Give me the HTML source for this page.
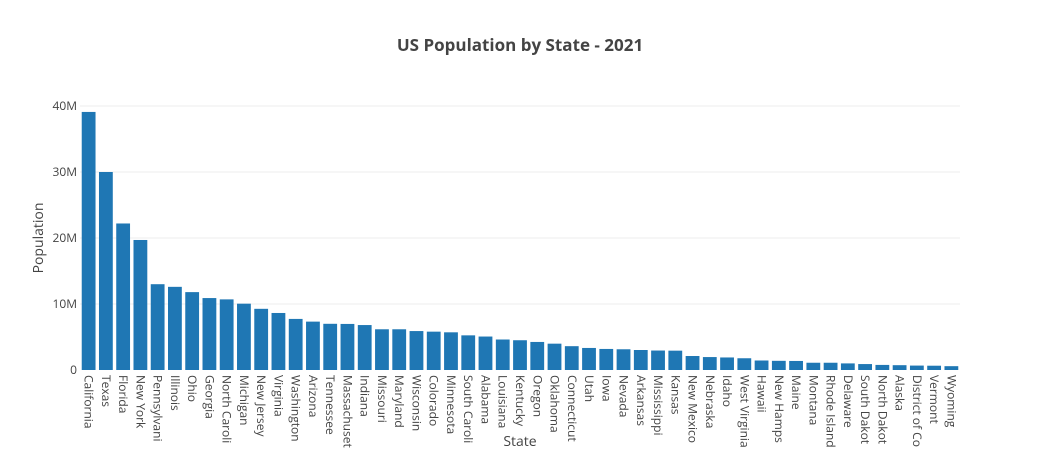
<!DOCTYPE html>
<html><head><meta charset="utf-8"><style>
html,body{margin:0;background:#fff;width:1040px;height:450px;overflow:hidden}
svg{display:block;overflow:hidden;font-family:"Open Sans","Liberation Sans",sans-serif}
</style></head><body>
<svg id="chart" width="1040" height="450" viewBox="0 0 1040 450">
<text x="520" y="51" text-anchor="middle" font-size="17" font-weight="bold" fill="#444">US Population by State - 2021</text>
<g id="grid"></g><g id="bars"></g><g id="xticks"></g><g id="yticks"></g>
<text x="520" y="446" text-anchor="middle" font-size="14" fill="#444">State</text>
<text transform="translate(43,238) rotate(-90)" text-anchor="middle" font-size="14" fill="#444">Population</text>
</svg>
<script>
const states=["California","Texas","Florida","New York","Pennsylvania","Illinois","Ohio","Georgia","North Carolina","Michigan","New Jersey","Virginia","Washington","Arizona","Tennessee","Massachusetts","Indiana","Missouri","Maryland","Wisconsin","Colorado","Minnesota","South Carolina","Alabama","Louisiana","Kentucky","Oregon","Oklahoma","Connecticut","Utah","Iowa","Nevada","Arkansas","Mississippi","Kansas","New Mexico","Nebraska","Idaho","West Virginia","Hawaii","New Hampshire","Maine","Montana","Rhode Island","Delaware","South Dakota","North Dakota","Alaska","District of Columbia","Vermont","Wyoming"];
const population=[39.1,30.0,22.2,19.7,13.0,12.6,11.8,10.9,10.7,10.05,9.27,8.64,7.74,7.33,7.0,6.98,6.81,6.17,6.17,5.9,5.81,5.71,5.25,5.07,4.62,4.51,4.25,3.99,3.61,3.34,3.19,3.14,3.03,2.95,2.93,2.12,1.96,1.9,1.78,1.44,1.39,1.37,1.1,1.1,1.0,0.9,0.77,0.73,0.67,0.65,0.58];
const yTicks=[0,10,20,30,40];
const yTickLabels=["0","10M","20M","30M","40M"];
const NS="http://www.w3.org/2000/svg";
const L=80,R=960,T=106,B=370,yMax=40;
const y=v=>B-(v/yMax)*(B-T);
const step=(R-L)/states.length;
const x=i=>L+step*(i+0.5);
function mk(tag,attrs,parent,txt){const e=document.createElementNS(NS,tag);for(const k in attrs)e.setAttribute(k,attrs[k]);if(txt!==undefined)e.textContent=txt;document.getElementById(parent).appendChild(e);return e;}
yTicks.forEach((t,i)=>{
  if(t>0){const g=mk('line',{x1:L,x2:R,y1:y(t),y2:y(t),stroke:'#eee','stroke-width':1},'grid');
  
  }
  const tx=mk('text',{x:L-3,y:y(t)+4,'text-anchor':'end','font-size':12,fill:'#444'},'yticks',yTickLabels[i]);
  
  
});
const bw=step*0.8;
states.forEach((s,i)=>{
  const r=mk('rect',{x:x(i)-bw/2,y:y(population[i]),width:bw,height:B-y(population[i]),fill:'#1f77b4'},'bars');
  
  
  const t=mk('text',{transform:`translate(${x(i)-4},375) rotate(90)`,'font-size':12,fill:'#444'},'xticks',s);
  
  
  let str=s;
  while(str.length>1 && t.getComputedTextLength()>73){str=str.slice(0,-1);t.textContent=str;}
});
</script>
</body></html>
